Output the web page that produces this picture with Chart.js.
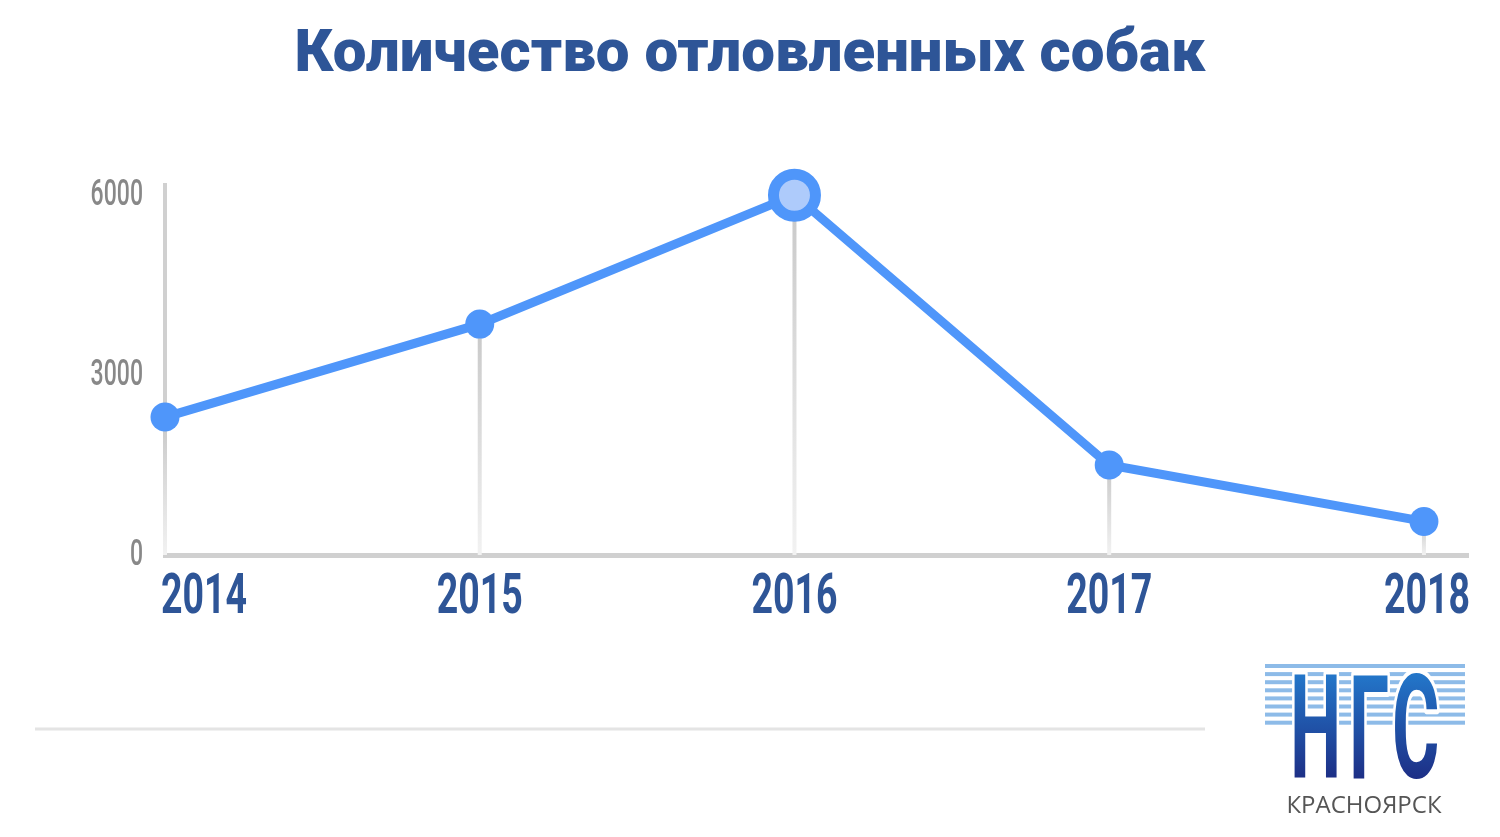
<!DOCTYPE html>
<html lang="ru">
<head>
<meta charset="utf-8">
<script src="https://cdn.jsdelivr.net/npm/chart.js@4/dist/chart.umd.min.js"></script>
<style>
  html, body { margin: 0; padding: 0; background: #ffffff; }
  #wrap { position: relative; width: 1500px; height: 837px; }
</style>
</head>
<body>
<div id="wrap"><canvas id="c" width="1500" height="837"></canvas></div>
<script>
// ---- data ----
const titleText = "Количество отловленных собак";
const years = [2014, 2015, 2016, 2017, 2018];
const dogsCaught = [2300, 3850, 6000, 1500, 560];
const yTicks = [0, 3000, 6000];
const highlightYear = 2016;
const logoMain = "НГС";
const logoCity = "КРАСНОЯРСК";

const BLUE = "#4f96fa";
const DARK = "#2e5597";

const points = years.map((y, i) => ({ x: y, y: dogsCaught[i] }));

// narrow (condensed) rendering of the axis tick labels that the scales produce
const condensedTicks = {
  id: "condensedTicks",
  afterDraw(chart) {
    const { ctx, scales: { x, y }, chartArea } = chart;
    ctx.save();
    // x labels
    ctx.fillStyle = DARK;
    ctx.font = "700 56px Roboto, sans-serif";
    ctx.textBaseline = "alphabetic";
    const sx = 0.67;
    x.ticks.forEach((t, i) => {
      const label = String(t.value);
      const px = x.getPixelForValue(t.value);
      const w = ctx.measureText(label).width * sx;
      let left = px - w / 2;
      if (i === 0) left = px - 4;
      if (i === x.ticks.length - 1) left = chartArea.right - w + 2;
      ctx.save();
      ctx.translate(left, 613);
      ctx.scale(sx, 1);
      ctx.textAlign = "left";
      ctx.fillText(label, 0, 0);
      ctx.restore();
    });
    // y labels
    ctx.fillStyle = "#888888";
    ctx.font = "500 36px Roboto, sans-serif";
    ctx.textBaseline = "middle";
    const sy = 0.64;
    y.ticks.forEach(t => {
      const label = String(t.value);
      const py = y.getPixelForValue(t.value);
      ctx.save();
      ctx.translate(143, py + 1);
      ctx.scale(sy, 1);
      ctx.textAlign = "right";
      ctx.fillText(label, 0, 0);
      ctx.restore();
    });
    ctx.restore();
  }
};

const dropLines = {
  id: "dropLines",
  beforeDatasetsDraw(chart) {
    const { ctx, scales: { x, y } } = chart;
    const base = y.getPixelForValue(0);
    ctx.save();
    years.forEach((yr, i) => {
      const px = x.getPixelForValue(yr);
      const py = y.getPixelForValue(dogsCaught[i]);
      const g = ctx.createLinearGradient(0, py, 0, base);
      g.addColorStop(0, "#c8c8c8");
      g.addColorStop(1, "#f2f2f2");
      ctx.strokeStyle = g;
      ctx.lineWidth = 4;
      ctx.beginPath();
      ctx.moveTo(px, py);
      ctx.lineTo(px, base);
      ctx.stroke();
    });
    ctx.restore();
  }
};

const decor = {
  id: "decor",
  afterDraw(chart) {
    const ctx = chart.ctx;
    ctx.save();
    // bottom separator
    ctx.strokeStyle = "#e4e4e4";
    ctx.lineWidth = 3;
    ctx.beginPath();
    ctx.moveTo(35, 729);
    ctx.lineTo(1205, 729);
    ctx.stroke();
    // logo stripes
    ctx.fillStyle = "#8dbbe8";
    for (let i = 0; i < 8; i++) {
      ctx.fillRect(1265, 664 + i * 8.1, 200, 4);
    }
    // logo letters, drawn one by one, condensed
    ctx.font = "700 145px Roboto, sans-serif";
    ctx.textAlign = "left";
    ctx.textBaseline = "alphabetic";
    ctx.lineJoin = "round";
    const sxL = 0.5;
    const lettersX = [1290, 1349, 1392];
    const chars = Array.from(logoMain);
    chars.forEach((ch, i) => {
      ctx.save();
      ctx.translate(lettersX[i], 778);
      ctx.scale(sxL, 1);
      ctx.lineWidth = 10;
      ctx.strokeStyle = "#ffffff";
      ctx.strokeText(ch, 0, 0);
      const g = ctx.createLinearGradient(0, -103, 0, 0);
      g.addColorStop(0, "#2376c9");
      g.addColorStop(1, "#1d2f86");
      ctx.fillStyle = g;
      ctx.fillText(ch, 0, 0);
      ctx.restore();
    });
    // city
    ctx.fillStyle = "#555555";
    ctx.textAlign = "center";
    ctx.font = "24px 'Open Sans', 'Liberation Sans', sans-serif";
    ctx.fillText(logoCity, 1364, 813);
    ctx.restore();
  }
};

new Chart(document.getElementById("c"), {
  type: "line",
  data: {
    datasets: [{
      data: points,
      borderColor: BLUE,
      borderWidth: 9,
      tension: 0,
      pointRadius: ctx => (ctx.raw && ctx.raw.x === highlightYear ? 21 : 14.5),
      pointBorderWidth: ctx => (ctx.raw && ctx.raw.x === highlightYear ? 11 : 0),
      pointBackgroundColor: ctx => (ctx.raw && ctx.raw.x === highlightYear ? "#aecbfb" : BLUE),
      pointBorderColor: BLUE,
      clip: false
    }]
  },
  options: {
    responsive: false,
    animation: false,
    layout: { padding: { left: 32, right: 32, top: 0, bottom: 0 } },
    plugins: {
      legend: { display: false },
      tooltip: { enabled: false },
      title: {
        display: true,
        text: titleText,
        color: DARK,
        font: { family: "Roboto", weight: "900", size: 60, lineHeight: 1.2 },
        padding: { top: 20, bottom: 93 }
      }
    },
    scales: {
      x: {
        type: "linear",
        min: years[0],
        max: years[years.length - 1] + 0.14,
        grid: { display: false, drawTicks: false },
        border: { display: true, color: "#d0d0d0", width: 5 },
        afterFit: s => { s.height = 282; },
        afterBuildTicks: s => { s.ticks = years.map(v => ({ value: v })); },
        ticks: { display: false }
      },
      y: {
        min: 0,
        max: 6170,
        grid: { display: false, drawTicks: false },
        border: { display: true, color: "#d0d0d0", width: 4 },
        afterFit: s => { s.width = 133; },
        afterBuildTicks: s => { s.ticks = yTicks.map(v => ({ value: v })); },
        ticks: { display: false }
      }
    }
  },
  plugins: [dropLines, decor, condensedTicks]
});
</script>
</body>
</html>
